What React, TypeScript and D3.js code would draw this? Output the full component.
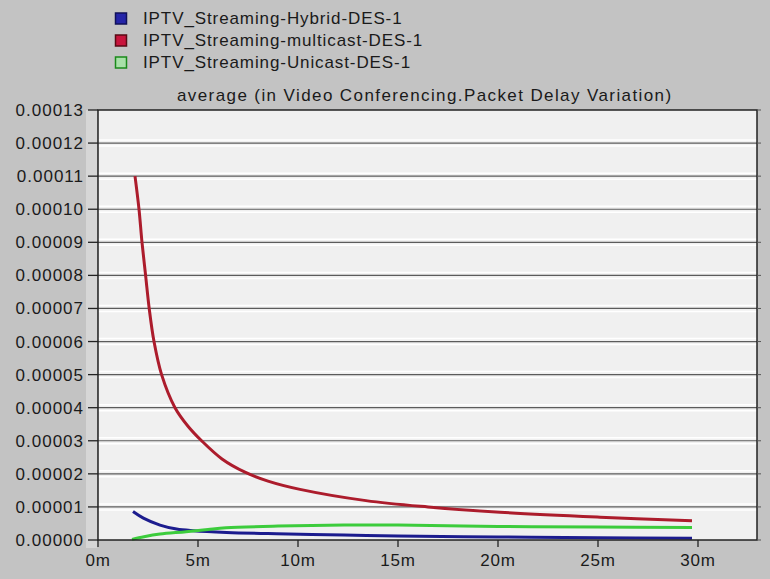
import React from "react";
import * as d3 from "d3";

const seriesNames = [
  "IPTV_Streaming-Hybrid-DES-1",
  "IPTV_Streaming-multicast-DES-1",
  "IPTV_Streaming-Unicast-DES-1",
];

// time in minutes, value in seconds
const hybridTime = [1.75, 2.27, 3.1, 3.93, 4.77, 6.43, 8.93, 12.3, 15, 20, 25, 29.7];
const hybridValues = [0.86e-5, 0.66e-5, 0.45e-5, 0.33e-5, 0.28e-5, 0.23e-5, 0.19e-5, 0.15e-5, 0.12e-5, 0.09e-5, 0.07e-5, 0.05e-5];

const multicastTime = [1.85, 2.05, 2.2, 2.38, 2.56, 2.8, 3.18, 3.85, 4.5, 5.18, 6.2, 7.35, 8.5, 10.1, 13.4, 16.5, 20.1, 25.1, 29.7];
const multicastValues = [11.0e-5, 10.0e-5, 9.0e-5, 8.0e-5, 7.0e-5, 6.0e-5, 5.0e-5, 4.0e-5, 3.44e-5, 3.0e-5, 2.45e-5, 2.05e-5, 1.78e-5, 1.53e-5, 1.19e-5, 1.0e-5, 0.84e-5, 0.69e-5, 0.58e-5];

const unicastTime = [1.7, 2.3, 3.1, 4.4, 5.5, 6.4, 9, 12.3, 15, 20, 25, 29.7];
const unicastValues = [0.02e-5, 0.1e-5, 0.18e-5, 0.25e-5, 0.32e-5, 0.37e-5, 0.42e-5, 0.45e-5, 0.45e-5, 0.41e-5, 0.39e-5, 0.38e-5];

const yTickValues = [0, 0.00001, 0.00002, 0.00003, 0.00004, 0.00005, 0.00006, 0.00007, 0.00008, 0.00009, 0.0001, 0.00011, 0.00012, 0.00013];
const xTickValues = [0, 5, 10, 15, 20, 25, 30];
const xTickLabels = ["0m", "5m", "10m", "15m", "20m", "25m", "30m"];

const chartTitle = "average (in Video Conferencing.Packet Delay Variation)";

const colors = ["#1c1c8e", "#ac1c2c", "#3ccc3c"];
const swatchFill = ["#2424a8", "#c8143c", "#a8e0a8"];
const swatchStroke = ["#10105a", "#5a0a14", "#1a8a1a"];

const W = 770;
const H = 579;
const left = 98;
const right = 757;
const top = 110;
const bottom = 540;
const font = "'Liberation Sans', Arial, sans-serif";

export default function App() {
  const x = d3.scaleLinear().domain([0, 32.95]).range([left, right]);
  const y = d3.scaleLinear().domain([0, 0.00013]).range([bottom, top]);

  const series = [
    { t: hybridTime, v: hybridValues },
    { t: multicastTime, v: multicastValues },
    { t: unicastTime, v: unicastValues },
  ];

  const line = d3
    .line<[number, number]>()
    .x((d) => x(d[0]))
    .y((d) => y(d[1]))
    .curve(d3.curveCatmullRom.alpha(0.5));

  return (
    <svg
      width={W}
      height={H}
      style={{ position: "absolute", left: 0, top: 0, display: "block" }}
      fontFamily={font}
    >
      <rect x={0} y={0} width={W} height={H} fill="#c3c3c3" />
      <rect x={86} y={top} width={11} height={bottom - top + 8} fill="#d6d6d6" />
      {/* legend */}
      {seriesNames.map((name, i) => (
        <g key={name}>
          <rect
            x={115.5}
            y={13 + i * 22}
            width={11}
            height={11}
            fill={swatchFill[i]}
            stroke={swatchStroke[i]}
            strokeWidth={1.5}
          />
          <text x={143} y={24 + i * 22} fontSize={17} letterSpacing={0.9} fill="#1a1a1a">
            {name}
          </text>
        </g>
      ))}
      <text x={177} y={101} fontSize={17} letterSpacing={1.4} fill="#1a1a1a">
        {chartTitle}
      </text>
      {/* plot background */}
      <rect x={left} y={top} width={right - left} height={bottom - top} fill="#f0f0f0" />
      {/* gridlines */}
      {yTickValues.map((v) => (
        <g key={"g" + v}>
          {v > 0 && v < 0.00013 && (
            <>
              <line x1={left} x2={right} y1={y(v) - 3} y2={y(v) - 3} stroke="#ffffff" strokeWidth={1.5} />
              <line x1={left} x2={right} y1={y(v) + 3} y2={y(v) + 3} stroke="#ffffff" strokeWidth={1.5} />
              <line x1={left} x2={right} y1={y(v)} y2={y(v)} stroke="#5c5c5c" strokeWidth={1.2} />
            </>
          )}
        </g>
      ))}
      {/* series lines */}
      {series.map((s, i) => {
        const pts = s.t.map((t, j) => [t, s.v[j]] as [number, number]);
        return (
          <path
            key={"s" + i}
            d={line(pts) || ""}
            fill="none"
            stroke={colors[i]}
            strokeWidth={3}
            strokeLinejoin="round"
          />
        );
      })}
      {/* frame */}
      <rect x={left} y={top} width={right - left} height={bottom - top} fill="none" stroke="#222" strokeWidth={1.5} />
      {/* y axis ticks and labels */}
      {yTickValues.map((v) => (
        <g key={"y" + v}>
          <line x1={88} x2={left} y1={y(v)} y2={y(v)} stroke="#222" strokeWidth={1.3} />
          <line x1={right} x2={right + 4} y1={y(v)} y2={y(v)} stroke="#555" strokeWidth={1} />
          <text
            x={84}
            y={y(v) + 6}
            fontSize={17}
            letterSpacing={1}
            textAnchor="end"
            fill="#1a1a1a"
          >
            {v.toFixed(5)}
          </text>
        </g>
      ))}
      {/* x axis ticks and labels */}
      {xTickValues.map((t, i) => (
        <g key={"x" + t}>
          <line x1={x(t)} x2={x(t)} y1={bottom} y2={bottom + 7} stroke="#222" strokeWidth={1.3} />
          <text x={x(t)} y={566} fontSize={17} letterSpacing={0.8} textAnchor="middle" fill="#1a1a1a">
            {xTickLabels[i]}
          </text>
        </g>
      ))}
    </svg>
  );
}
